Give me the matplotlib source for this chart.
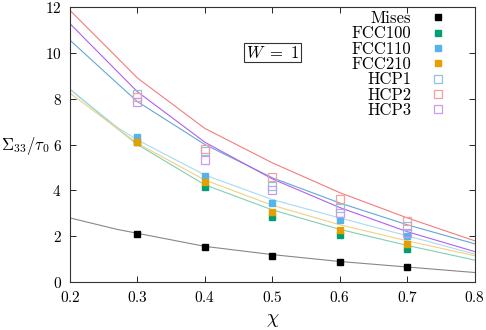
import matplotlib
matplotlib.use("Agg")
import matplotlib.pyplot as plt

plt.rcParams["font.family"] = "serif"
plt.rcParams["font.serif"] = ["cmr10", "DejaVu Serif"]
plt.rcParams["mathtext.fontset"] = "cm"
plt.rcParams["axes.formatter.use_mathtext"] = True

# --- simulation points ---
CHI_PTS = [0.3, 0.4, 0.5, 0.6, 0.7]
MISES = [2.11, 1.53, 1.15, 0.86, 0.64]
FCC100 = [6.10, 4.16, 2.83, 2.05, 1.43]
FCC110 = [6.35, 4.63, 3.46, 2.71, 2.00]
FCC210 = [6.13, 4.38, 3.07, 2.27, 1.65]
HCP1 = [8.20, 5.73, 4.19, 3.22, 2.45]
HCP2 = [8.06, 5.79, 4.57, 3.61, 2.68]
HCP3 = [7.87, 5.33, 4.02, 3.00, 2.15]

# --- model curves ---
CHI_LINE = [0.2, 0.27, 0.3, 0.4, 0.5, 0.6, 0.7, 0.8]
MISES_L = [2.80, 2.30, 2.13, 1.56, 1.20, 0.90, 0.66, 0.42]
FCC100_L = [8.41, 6.70, 6.00, 4.24, 3.15, 2.30, 1.60, 0.96]
FCC110_L = [8.41, 6.75, 6.20, 4.67, 3.60, 2.80, 2.02, 1.22]
FCC210_L = [8.24, 6.70, 6.05, 4.45, 3.35, 2.50, 1.80, 1.15]
HCP1_L = [10.55, 8.67, 7.87, 6.00, 4.55, 3.45, 2.50, 1.67]
HCP2_L = [11.85, 9.79, 8.90, 6.70, 5.20, 3.90, 2.80, 1.80]
HCP3_L = [11.27, 9.19, 8.30, 6.10, 4.50, 3.25, 2.20, 1.33]

LABELS = ["Mises", "FCC100", "FCC110", "FCC210", "HCP1", "HCP2", "HCP3"]

fig = plt.figure(figsize=(4.86, 3.30), dpi=100)
ax = fig.add_axes([0.144, 0.145, 0.833, 0.834])

series = [
    (MISES, MISES_L, "#000000", "#888888", True),
    (FCC100, FCC100_L, "#009e73", "#7fd0b6", True),
    (FCC110, FCC110_L, "#56b4e9", "#a8daf4", True),
    (FCC210, FCC210_L, "#e69f00", "#f4d080", True),
    (HCP1, HCP1_L, "#8ec4dc", "#62a8d2", False),
    (HCP2, HCP2_L, "#f4a0a0", "#f47c7c", False),
    (HCP3, HCP3_L, "#cc99f0", "#b060ee", False),
]

for (pts, line, mcol, lcol, filled), lab in zip(series, LABELS):
    ax.plot(CHI_LINE, line, color=lcol, lw=0.8, zorder=2)
    if filled:
        ax.plot(CHI_PTS, pts, ls="none", marker="s", ms=5, mfc=mcol,
                mec=mcol, label=lab, zorder=3)
    else:
        ax.plot(CHI_PTS, pts, ls="none", marker="s", ms=6, mfc="none",
                mec=mcol, mew=0.9, label=lab, zorder=3)

ax.set_xlim(0.2, 0.8)
ax.set_ylim(0, 12)
ax.set_xticks([0.2, 0.3, 0.4, 0.5, 0.6, 0.7, 0.8])
ax.set_yticks([0, 2, 4, 6, 8, 10, 12])
ax.tick_params(direction="in", top=True, right=True, labelsize=11, length=4,
               width=0.6, pad=6)
for s in ax.spines.values():
    s.set_linewidth(0.8)
    s.set_color("#333333")

ax.set_xlabel(r"$\chi$", fontsize=14, labelpad=4)
ax.set_ylabel(r"$\Sigma_{33}/\tau_0$", fontsize=12, rotation=0, va="center")
ax.yaxis.set_label_coords(-0.111, 0.495)

ax.text(0.5, 10.0, r"$W\ =\ 1$", fontsize=12,
        ha="center", va="center",
        bbox=dict(boxstyle="square,pad=0.1", fc="white", ec="#333333", lw=0.8))

leg = ax.legend(loc="upper right", bbox_to_anchor=(0.946, 1.01),
                frameon=False, markerfirst=False, fontsize=12,
                handlelength=1.0, handletextpad=1.1, labelspacing=0.0,
                borderaxespad=0.0)
for t in leg.get_texts():
    t.set_ha("right")

fig.savefig("out.png", dpi=100)
